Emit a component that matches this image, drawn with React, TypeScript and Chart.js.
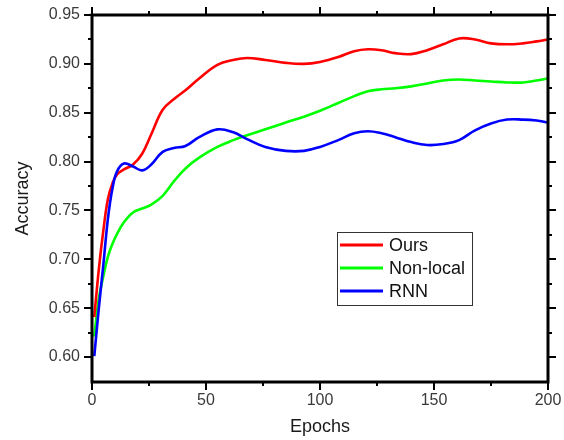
import React, { useEffect, useRef } from "react";
import { Chart, registerables } from "chart.js";

Chart.register(...registerables);

const EPOCHS = [1, 3, 5, 7, 9, 11, 14, 18, 22, 26, 31, 36, 41, 47, 55, 62, 68, 76, 85, 93, 100, 108, 115, 121, 127, 133, 140, 147, 154, 161, 168, 175, 182, 189, 195, 200];

const OURS = [0.641, 0.690, 0.730, 0.762, 0.778, 0.787, 0.792, 0.797, 0.808, 0.828, 0.853, 0.864, 0.873, 0.885, 0.899, 0.904, 0.906, 0.904, 0.901, 0.900, 0.902, 0.907, 0.913, 0.915, 0.914, 0.911, 0.910, 0.914, 0.920, 0.926, 0.925, 0.921, 0.920, 0.921, 0.923, 0.925];

const NON_LOCAL = [0.621, 0.660, 0.683, 0.703, 0.716, 0.726, 0.738, 0.748, 0.752, 0.756, 0.765, 0.780, 0.793, 0.804, 0.815, 0.822, 0.827, 0.833, 0.840, 0.846, 0.852, 0.860, 0.867, 0.872, 0.874, 0.875, 0.877, 0.880, 0.883, 0.884, 0.883, 0.882, 0.881, 0.881, 0.883, 0.885];

const RNN = [0.601, 0.650, 0.695, 0.742, 0.773, 0.790, 0.798, 0.795, 0.791, 0.797, 0.810, 0.814, 0.816, 0.825, 0.833, 0.830, 0.823, 0.815, 0.811, 0.811, 0.815, 0.822, 0.829, 0.831, 0.829, 0.825, 0.820, 0.817, 0.818, 0.822, 0.832, 0.839, 0.843, 0.843, 0.842, 0.840];

const SERIES_LABELS = ["Ours", "Non-local", "RNN"];
const SERIES_COLORS = ["#ff0000", "#00ff00", "#0000ff"];

const X_TICKS = [0, 50, 100, 150, 200];
const X_MINOR = [25, 75, 125, 175];
const Y_TICKS = [0.6, 0.65, 0.7, 0.75, 0.8, 0.85, 0.9, 0.95];
const Y_MINOR = [0.625, 0.675, 0.725, 0.775, 0.825, 0.875, 0.925];

const X_MIN = 0;
const X_MAX = 200;
const Y_MIN = 0.5745;
const Y_MAX = 0.95;

const framePlugin = {
  id: "frame",
  afterDatasetsDraw(chart: any) {
    const { ctx, chartArea, scales } = chart;
    const { left, right, top, bottom } = chartArea;
    const x = scales.x;
    const y = scales.y;
    ctx.save();
    ctx.strokeStyle = "#000";
    ctx.lineWidth = 3;
    ctx.strokeRect(left, top, right - left, bottom - top);
    ctx.lineWidth = 2;
    const seg = (x1: number, y1: number, x2: number, y2: number) => {
      ctx.beginPath();
      ctx.moveTo(x1, y1);
      ctx.lineTo(x2, y2);
      ctx.stroke();
    };
    const major = 8;
    const minor = 4;
    X_TICKS.forEach((v) => {
      const px = Math.round(x.getPixelForValue(v));
      seg(px, bottom, px, bottom + major);
      seg(px, top, px, top - major);
    });
    X_MINOR.forEach((v) => {
      const px = Math.round(x.getPixelForValue(v));
      seg(px, bottom, px, bottom + minor);
      seg(px, top, px, top - minor);
    });
    Y_TICKS.forEach((v) => {
      const py = Math.round(y.getPixelForValue(v));
      seg(left, py, left - major, py);
      seg(right, py, right + major, py);
    });
    Y_MINOR.forEach((v) => {
      const py = Math.round(y.getPixelForValue(v));
      seg(left, py, left - minor, py);
      seg(right, py, right + minor, py);
    });
    ctx.restore();
  },
  afterDraw(chart: any) {
    const { ctx, chartArea } = chart;
    const bx = chartArea.left + 245;
    const by = chartArea.top + 217;
    const bw = 135;
    const bh = 73;
    ctx.save();
    ctx.fillStyle = "#fff";
    ctx.fillRect(bx, by, bw, bh);
    ctx.strokeStyle = "#333";
    ctx.lineWidth = 1;
    ctx.strokeRect(bx + 0.5, by + 0.5, bw, bh);
    ctx.font = "18px Arial, 'Liberation Sans', sans-serif";
    ctx.textBaseline = "middle";
    ctx.textAlign = "left";
    chart.data.datasets.forEach((ds: any, i: number) => {
      const cy = by + 13 + i * 23;
      ctx.strokeStyle = ds.borderColor;
      ctx.lineWidth = 3;
      ctx.beginPath();
      ctx.moveTo(bx + 3, cy);
      ctx.lineTo(bx + 46, cy);
      ctx.stroke();
      ctx.fillStyle = "#111";
      ctx.fillText(ds.label, bx + 52, cy + 1);
    });
    ctx.restore();
  },
};

export default function App() {
  const ref = useRef<HTMLCanvasElement | null>(null);

  useEffect(() => {
    if (!ref.current) return;
    const seriesValues = [OURS, NON_LOCAL, RNN];
    const datasets = seriesValues.map((vals, i) => ({
      label: SERIES_LABELS[i],
      data: EPOCHS.map((e, j) => ({ x: e, y: vals[j] })),
      borderColor: SERIES_COLORS[i],
      backgroundColor: SERIES_COLORS[i],
      borderWidth: 2.6,
      pointRadius: 0,
      tension: 0.4,
      fill: false,
      order: i === 2 ? 1 : i === 0 ? 2 : 3,
    }));
    const chart = new Chart(ref.current, {
      type: "line",
      data: { datasets },
      options: {
        animation: false,
        responsive: false,
        layout: { padding: { top: 15, right: 16, left: 0, bottom: 0 } },
        plugins: {
          legend: { display: false },
          tooltip: { enabled: false },
        },
        scales: {
          x: {
            type: "linear",
            min: X_MIN,
            max: X_MAX,
            grid: { display: false, drawTicks: false },
            border: { display: false },
            afterBuildTicks: (s: any) => {
              s.ticks = X_TICKS.map((v) => ({ value: v }));
            },
            afterFit: (s: any) => {
              s.height = 58;
              s.paddingLeft = 0;
              s.paddingRight = 0;
            },
            ticks: {
              autoSkip: false,
              maxRotation: 0,
              padding: 9,
              color: "#3a3a3a",
              font: { family: "Arial, 'Liberation Sans', sans-serif", size: 16 },
            },
            title: {
              display: true,
              text: "Epochs",
              color: "#1a1a1a",
              padding: { top: 2, bottom: 2 },
              font: { family: "Arial, 'Liberation Sans', sans-serif", size: 18 },
            },
          },
          y: {
            type: "linear",
            min: Y_MIN,
            max: Y_MAX,
            grid: { display: false, drawTicks: false },
            border: { display: false },
            afterBuildTicks: (s: any) => {
              s.ticks = Y_TICKS.map((v) => ({ value: v }));
            },
            afterFit: (s: any) => {
              s.width = 92;
              s.paddingTop = 0;
              s.paddingBottom = 0;
            },
            ticks: {
              autoSkip: false,
              padding: 12,
              color: "#3a3a3a",
              font: { family: "Arial, 'Liberation Sans', sans-serif", size: 16 },
              callback: (v: any) => Number(v).toFixed(2),
            },
            title: {
              display: true,
              text: "Accuracy",
              color: "#1a1a1a",
              padding: { top: 12, bottom: 2 },
              font: { family: "Arial, 'Liberation Sans', sans-serif", size: 18 },
            },
          },
        },
      },
      plugins: [framePlugin],
    });
    return () => chart.destroy();
  }, []);

  return (
    <div style={{ position: "absolute", left: 0, top: 0, width: 564, height: 440, background: "#fff" }}>
      <canvas ref={ref} width={564} height={440} style={{ display: "block" }} />
    </div>
  );
}
